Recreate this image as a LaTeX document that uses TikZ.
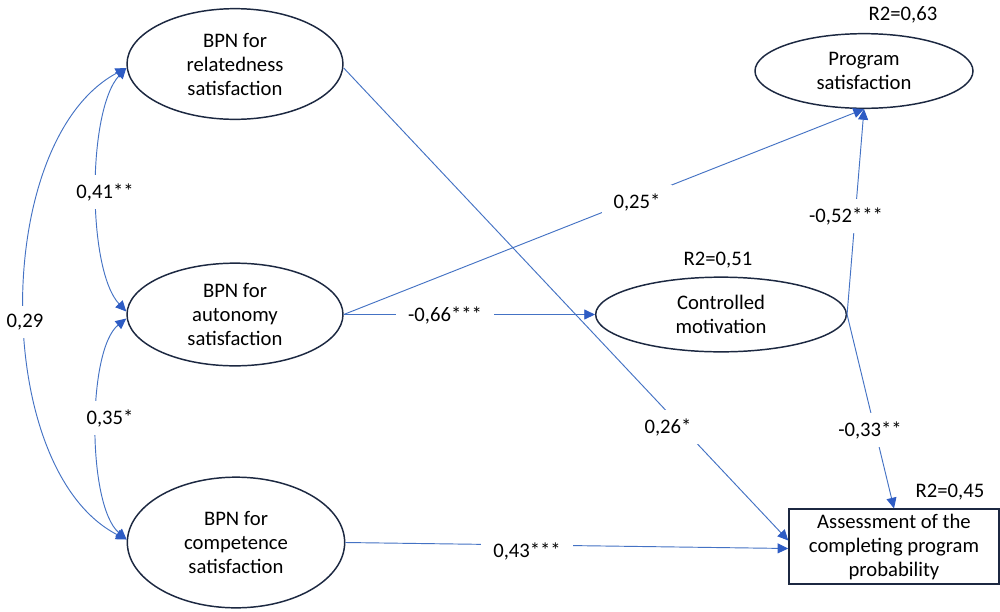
\documentclass[tikz,border=0pt]{standalone}
\usepackage{fontspec}
\setmainfont{Carlito}
\usetikzlibrary{shapes.geometric,arrows.meta,calc}
\definecolor{linecol}{HTML}{4472C4}
\definecolor{tipcol}{HTML}{2E5CC4}
\definecolor{edgecol}{HTML}{1C2841}
\begin{document}
\begin{tikzpicture}[x=0.75pt,y=-0.75pt,
  every node/.style={font=\fontsize{15.5}{18}\selectfont},
  ell/.style={ellipse,draw=edgecol,line width=1.1pt,inner sep=0pt,align=center},
  boxnode/.style={rectangle,draw=edgecol,line width=1.1pt,inner sep=0pt,align=center},
  conn/.style={draw=linecol,line width=0.7pt},
  tipend/.style={-{Triangle[length=8pt,width=7.5pt,color=tipcol]}},
  tipboth/.style={{Triangle[length=8pt,width=7.5pt,color=tipcol]}-{Triangle[length=8pt,width=7.5pt,color=tipcol]}},
  lbl/.style={fill=white,inner xsep=9pt,inner ysep=6pt},
  rtwo/.style={inner sep=0pt}
]
\fill[white] (0,0) rectangle (1000,611);
\useasboundingbox (0,0) rectangle (1000,611);

% nodes
\node[ell,minimum width=162pt,minimum height=83pt] (rel) at (235,64) {BPN for\\relatedness\\satisfaction};
\node[ell,minimum width=162pt,minimum height=77pt] (aut) at (235,314.5) {BPN for\\autonomy\\satisfaction};
\node[ell,minimum width=163pt,minimum height=98pt] (comp) at (236,542.5) {BPN for\\competence\\satisfaction};
\node[ell,minimum width=163.5pt,minimum height=56pt] (prog) at (864,71) {Program\\satisfaction};
\node[ell,minimum width=188pt,minimum height=56pt] (ctrl) at (721,314.5) {Controlled\\motivation};
\node[boxnode,minimum width=157.5pt,minimum height=56pt] (box) at (894,546.5) {Assessment of the\\completing program\\probability};

% straight paths
\draw[conn,tipend] ($(rel.east)+(0,4)$) -- ($(box.west)+(0,-6)$);
\draw[conn,tipend] (aut.east) -- (prog.south);
\draw[conn,tipend] (aut.east) -- (ctrl.west);
\draw[conn,tipend] (ctrl.east) -- (prog.south);
\draw[conn,tipend] (ctrl.east) -- (box.north);
\draw[conn,tipend] (comp.east) -- ($(box.west)+(0,2)$);

% curved correlations
\coordinate (relA) at ($(rel.west)+(0,4)$);
\coordinate (autA) at ($(aut.west)+(0,-3)$);
\coordinate (autB) at ($(aut.west)+(0,4)$);
\coordinate (compA) at ($(comp.west)+(0,-3)$);
\draw[conn,tipboth] (relA) .. controls (87,110) and (87,270) .. (autA);
\draw[conn,tipboth] (autB) .. controls (87,350) and (87,505) .. (compA);
\draw[conn,tipboth] (relA) .. controls (-9,140) and (-9,470) .. (compA);

% coefficient labels
\node[lbl] (l41) at (105,192) {0,41**};
\node[lbl] (l29) at (25,322) {0,29};
\node[lbl] (l35) at (110,418) {0,35*};
\node[lbl] (l25) at (637,202) {0,25*};
\node[lbl] (l66) at (445,315) {-0,66***};
\node[lbl] (l52) at (846,216) {-0,52***};
\node[lbl] (l26) at (668,427) {0,26*};
\node[lbl] (l33) at (870,430) {-0,33**};
\node[lbl] (l43) at (527,551) {0,43***};

% R2 labels
\node[rtwo] (r63) at (903,15) {R2=0,63};
\node[rtwo] (r51) at (718,260) {R2=0,51};
\node[rtwo] (r45) at (950,492) {R2=0,45};
\end{tikzpicture}
\end{document}
